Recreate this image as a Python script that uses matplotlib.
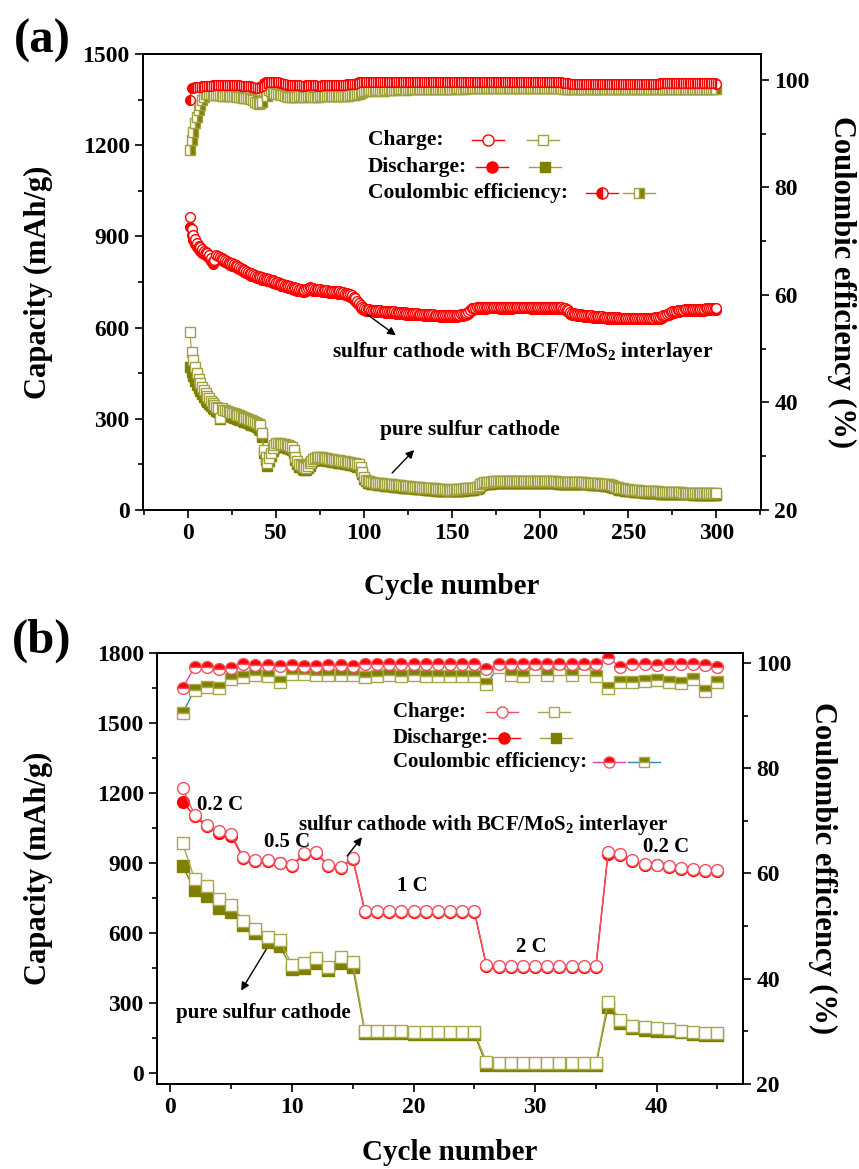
import matplotlib
matplotlib.use("Agg")
import matplotlib.pyplot as plt
import numpy as np
from matplotlib.lines import Line2D
from matplotlib.ticker import MultipleLocator

plt.rcParams['font.family'] = ['Liberation Serif', 'DejaVu Serif']
plt.rcParams['font.weight'] = 'bold'
plt.rcParams['axes.labelweight'] = 'bold'
plt.rcParams['mathtext.fontset'] = 'custom'
plt.rcParams['mathtext.rm'] = 'Liberation Serif:bold'
plt.rcParams['mathtext.it'] = 'Liberation Serif:bold'
plt.rcParams['mathtext.default'] = 'rm'

# ---------------- panel (a): long cycling, 300 cycles ----------------
bcf_charge_a = [
    963, 925, 905, 890, 878, 870, 864, 858, 853, 849, 845, 840, 830, 818, 822, 838, 835, 832, 829, 826,
    823, 820, 817, 814, 811, 808, 805, 802, 799, 796, 793, 790, 787, 784, 781, 778, 776, 773, 771, 769,
    767, 765, 763, 762, 760, 759, 757, 755, 753, 751, 749, 747, 745, 743, 741, 740, 738, 736, 734, 732,
    731, 729, 728, 726, 725, 724, 727, 731, 732, 731, 729, 728, 727, 726, 726, 725, 724, 724, 723, 722,
    722, 721, 721, 720, 719, 719, 718, 717, 715, 713, 711, 709, 706, 702, 696, 688, 680, 673, 667, 663,
    661, 660, 660, 659, 659, 658, 658, 657, 657, 656, 656, 655, 655, 654, 654, 653, 653, 652, 652, 651,
    651, 650, 650, 649, 649, 648, 648, 648, 647, 647, 646, 646, 646, 645, 645, 645, 644, 644, 644, 643,
    643, 643, 642, 642, 642, 641, 641, 641, 641, 641, 641, 642, 642, 643, 644, 645, 646, 648, 652, 658,
    663, 665, 666, 667, 667, 668, 668, 668, 668, 669, 669, 669, 669, 669, 669, 669, 668, 668, 668, 668,
    668, 668, 668, 668, 669, 669, 669, 669, 669, 669, 669, 669, 669, 669, 668, 668, 668, 668, 668, 668,
    668, 668, 668, 668, 668, 668, 668, 667, 667, 667, 667, 667, 666, 665, 662, 657, 652, 649, 647, 646,
    645, 644, 644, 643, 642, 642, 641, 640, 640, 639, 639, 638, 638, 637, 637, 636, 636, 635, 635, 635,
    634, 634, 634, 634, 633, 633, 633, 633, 633, 633, 633, 633, 633, 633, 633, 633, 633, 633, 633, 633,
    633, 633, 633, 633, 634, 634, 634, 635, 637, 640, 643, 646, 649, 651, 653, 655, 656, 657, 658, 659,
    659, 660, 660, 660, 661, 661, 661, 661, 662, 662, 662, 662, 662, 663, 663, 663, 663, 664, 664, 664,
]
bcf_discharge_a = [
    930, 905, 888, 876, 866, 858, 852, 847, 842, 838, 834, 829, 818, 810, 815, 830, 828, 825, 822, 819,
    816, 813, 810, 807, 804, 801, 798, 795, 792, 789, 786, 783, 780, 777, 774, 771, 769, 766, 764, 762,
    760, 758, 756, 755, 753, 752, 750, 748, 746, 744, 742, 740, 738, 736, 734, 733, 731, 729, 727, 725,
    724, 722, 721, 719, 718, 717, 720, 724, 725, 724, 722, 721, 720, 719, 719, 718, 717, 717, 716, 715,
    715, 714, 714, 713, 712, 712, 711, 710, 708, 706, 704, 702, 699, 695, 689, 681, 673, 666, 660, 657,
    655, 654, 654, 653, 653, 652, 652, 651, 651, 650, 650, 649, 649, 648, 648, 647, 647, 646, 646, 645,
    645, 644, 644, 643, 643, 642, 642, 642, 641, 641, 640, 640, 640, 639, 639, 639, 638, 638, 638, 637,
    637, 637, 636, 636, 636, 635, 635, 635, 635, 635, 635, 636, 636, 637, 638, 639, 640, 642, 646, 652,
    657, 659, 660, 661, 661, 662, 662, 662, 662, 663, 663, 663, 663, 663, 663, 663, 662, 662, 662, 662,
    662, 662, 662, 662, 663, 663, 663, 663, 663, 663, 663, 663, 663, 663, 662, 662, 662, 662, 662, 662,
    662, 662, 662, 662, 662, 662, 662, 661, 661, 661, 661, 661, 660, 659, 656, 651, 646, 643, 641, 640,
    639, 638, 638, 637, 636, 636, 635, 634, 634, 633, 633, 632, 632, 631, 631, 630, 630, 629, 629, 629,
    628, 628, 628, 628, 627, 627, 627, 627, 627, 627, 627, 627, 627, 627, 627, 627, 627, 627, 627, 627,
    627, 627, 627, 627, 628, 628, 628, 629, 631, 634, 637, 640, 643, 645, 647, 649, 650, 651, 652, 653,
    653, 654, 654, 654, 655, 655, 655, 655, 656, 656, 656, 656, 656, 657, 657, 657, 657, 658, 658, 658,
]
pure_charge_a = [
    585, 521, 493, 470, 450, 432, 418, 405, 395, 385, 376, 368, 360, 352, 346, 340, 336, 302, 334, 330,
    328, 326, 324, 322, 320, 318, 316, 313, 311, 309, 306, 304, 302, 300, 297, 295, 292, 289, 286, 282,
    278, 253, 197, 175, 154, 170, 187, 205, 215, 219, 220, 219, 218, 217, 216, 215, 214, 212, 208, 197,
    175, 160, 150, 149, 145, 142, 138, 146, 154, 162, 168, 171, 173, 174, 174, 173, 172, 171, 170, 169,
    168, 167, 166, 165, 164, 163, 162, 161, 160, 159, 158, 157, 156, 155, 153, 151, 150, 140, 125, 110,
    100, 96, 94, 92, 91, 90, 90, 89, 88, 88, 87, 86, 86, 85, 85, 84, 83, 83, 82, 82,
    81, 80, 80, 79, 79, 78, 77, 77, 76, 76, 75, 75, 74, 74, 73, 73, 72, 72, 71, 71,
    70, 70, 69, 69, 68, 68, 67, 67, 67, 67, 68, 68, 69, 69, 70, 70, 71, 71, 72, 72,
    73, 73, 74, 76, 80, 85, 89, 91, 92, 93, 93, 93, 94, 94, 94, 94, 94, 94, 94, 94,
    94, 94, 94, 94, 94, 94, 94, 94, 94, 94, 94, 94, 94, 94, 94, 94, 94, 94, 94, 94,
    94, 94, 94, 94, 94, 94, 94, 94, 94, 93, 93, 93, 93, 93, 93, 93, 93, 93, 93, 92,
    92, 92, 91, 91, 91, 90, 90, 90, 89, 89, 89, 88, 88, 87, 87, 86, 86, 85, 84, 83,
    81, 79, 77, 75, 73, 72, 71, 70, 69, 68, 67, 67, 66, 66, 65, 65, 64, 64, 63, 63,
    63, 62, 62, 62, 61, 61, 61, 60, 60, 60, 60, 59, 59, 59, 59, 58, 58, 58, 58, 58,
    57, 57, 57, 57, 57, 57, 56, 56, 56, 56, 56, 56, 56, 55, 55, 55, 55, 55, 55, 55,
]
pure_discharge_a = [
    470, 455, 440, 425, 412, 400, 390, 380, 371, 362, 355, 348, 342, 336, 331, 327, 323, 300, 318, 316,
    314, 312, 310, 308, 306, 304, 302, 299, 297, 295, 292, 290, 288, 286, 283, 281, 278, 275, 272, 268,
    264, 240, 186, 165, 146, 160, 177, 195, 205, 209, 210, 209, 208, 207, 206, 205, 204, 202, 198, 187,
    166, 151, 141, 140, 136, 133, 130, 138, 146, 154, 160, 163, 165, 166, 166, 165, 164, 163, 162, 161,
    160, 159, 158, 157, 156, 155, 154, 153, 152, 151, 150, 149, 148, 147, 145, 143, 142, 132, 118, 103,
    94, 90, 88, 86, 85, 84, 84, 83, 82, 82, 81, 80, 80, 79, 79, 78, 77, 77, 76, 76,
    75, 74, 74, 73, 73, 72, 71, 71, 70, 70, 69, 69, 68, 68, 67, 67, 66, 66, 65, 65,
    64, 64, 63, 63, 62, 62, 61, 61, 61, 61, 62, 62, 63, 63, 64, 64, 65, 65, 66, 66,
    67, 67, 68, 70, 74, 79, 83, 85, 86, 87, 87, 87, 88, 88, 88, 88, 88, 88, 88, 88,
    88, 88, 88, 88, 88, 88, 88, 88, 88, 88, 88, 88, 88, 88, 88, 88, 88, 88, 88, 88,
    88, 88, 88, 88, 88, 88, 88, 88, 88, 87, 87, 87, 87, 87, 87, 87, 87, 87, 87, 86,
    86, 86, 85, 85, 85, 84, 84, 84, 83, 83, 83, 82, 82, 81, 81, 80, 80, 79, 78, 77,
    75, 73, 71, 69, 67, 66, 65, 64, 63, 62, 61, 61, 60, 60, 59, 59, 58, 58, 57, 57,
    57, 56, 56, 56, 55, 55, 55, 54, 54, 54, 54, 53, 53, 53, 53, 52, 52, 52, 52, 52,
    51, 51, 51, 51, 51, 51, 50, 50, 50, 50, 50, 50, 50, 49, 49, 49, 49, 49, 49, 49,
]
bcf_ce_a = [
    96.2, 98.4, 98.5, 98.6, 98.6, 98.7, 98.7, 98.8, 98.8, 98.8, 98.9, 98.9, 98.9, 99.0, 99.0, 99.0, 99.0, 99.0, 99.1, 99.1,
    99.1, 99.1, 99.1, 99.1, 99.0, 99.0, 99.0, 99.0, 99.0, 98.9, 98.9, 98.9, 98.8, 98.8, 98.8, 98.7, 98.6, 98.5, 98.5, 98.6,
    98.7, 98.8, 99.4, 99.5, 99.5, 99.6, 99.5, 99.5, 99.6, 99.5, 99.5, 99.4, 99.4, 99.3, 99.2, 99.1, 99.0, 99.0, 99.0, 99.0,
    99.0, 99.0, 99.0, 98.9, 98.9, 98.9, 99.0, 99.0, 99.0, 99.0, 99.0, 99.0, 98.9, 98.9, 98.9, 99.0, 99.0, 99.0, 99.0, 99.0,
    99.0, 99.0, 99.0, 99.1, 99.1, 99.1, 99.1, 99.1, 99.1, 99.2, 99.2, 99.2, 99.2, 99.3, 99.3, 99.4, 99.5, 99.5, 99.5, 99.5,
    99.5, 99.5, 99.6, 99.5, 99.5, 99.5, 99.6, 99.6, 99.5, 99.5, 99.5, 99.5, 99.6, 99.6, 99.5, 99.5, 99.5, 99.5, 99.5, 99.6,
    99.6, 99.5, 99.5, 99.5, 99.5, 99.6, 99.6, 99.6, 99.5, 99.5, 99.5, 99.5, 99.5, 99.6, 99.6, 99.6, 99.5, 99.5, 99.5, 99.5,
    99.5, 99.5, 99.6, 99.6, 99.6, 99.5, 99.5, 99.5, 99.5, 99.5, 99.6, 99.6, 99.6, 99.6, 99.5, 99.5, 99.5, 99.5, 99.6, 99.6,
    99.6, 99.6, 99.6, 99.6, 99.5, 99.5, 99.5, 99.5, 99.5, 99.5, 99.5, 99.5, 99.5, 99.5, 99.5, 99.5, 99.5, 99.5, 99.5, 99.5,
    99.5, 99.5, 99.5, 99.5, 99.5, 99.5, 99.5, 99.5, 99.5, 99.5, 99.5, 99.5, 99.5, 99.5, 99.5, 99.5, 99.5, 99.5, 99.5, 99.5,
    99.5, 99.5, 99.5, 99.5, 99.5, 99.5, 99.5, 99.5, 99.5, 99.5, 99.5, 99.5, 99.4, 99.4, 99.4, 99.4, 99.3, 99.3, 99.3, 99.3,
    99.3, 99.3, 99.3, 99.3, 99.3, 99.3, 99.3, 99.3, 99.3, 99.3, 99.3, 99.3, 99.3, 99.3, 99.3, 99.3, 99.3, 99.3, 99.3, 99.3,
    99.3, 99.3, 99.3, 99.3, 99.3, 99.3, 99.3, 99.3, 99.3, 99.3, 99.3, 99.3, 99.3, 99.3, 99.3, 99.3, 99.3, 99.3, 99.3, 99.3,
    99.3, 99.3, 99.3, 99.3, 99.3, 99.3, 99.3, 99.4, 99.4, 99.4, 99.4, 99.4, 99.4, 99.4, 99.4, 99.4, 99.4, 99.4, 99.4, 99.4,
    99.4, 99.4, 99.4, 99.4, 99.4, 99.4, 99.4, 99.4, 99.4, 99.4, 99.4, 99.4, 99.4, 99.4, 99.4, 99.4, 99.4, 99.4, 99.4, 99.3,
]
pure_ce_a = [
    86.9, 88.8, 90.3, 91.9, 93.1, 94.4, 95.3, 96.2, 96.8, 97.3, 97.4, 97.4, 97.3, 97.2, 97.1, 97.1, 97.2, 97.1, 97.0, 97.0,
    97.0, 97.1, 97.0, 96.9, 96.9, 97.0, 96.9, 96.8, 96.8, 96.8, 96.7, 96.7, 96.6, 96.6, 96.5, 96.5, 96.3, 95.8, 95.6, 95.5,
    95.6, 95.9, 98.0, 97.8, 97.0, 98.1, 97.9, 97.6, 97.5, 97.4, 97.3, 97.3, 97.2, 97.2, 97.0, 96.9, 96.8, 96.8, 96.8, 96.8,
    96.8, 96.8, 96.9, 96.9, 96.8, 96.8, 96.8, 96.9, 96.9, 96.9, 96.8, 96.8, 96.8, 96.8, 96.9, 96.9, 96.9, 96.9, 96.9, 96.9,
    96.9, 96.9, 96.9, 97.0, 97.0, 97.0, 97.0, 97.0, 97.0, 97.0, 97.0, 97.1, 97.1, 97.1, 97.2, 97.3, 97.4, 97.6, 97.8, 98.0,
    98.0, 98.0, 98.1, 98.1, 98.0, 98.0, 98.1, 98.1, 98.1, 98.0, 98.0, 98.1, 98.1, 98.2, 98.2, 98.1, 98.1, 98.1, 98.2, 98.2,
    98.2, 98.2, 98.1, 98.1, 98.2, 98.2, 98.2, 98.2, 98.3, 98.3, 98.2, 98.2, 98.2, 98.3, 98.3, 98.3, 98.2, 98.2, 98.3, 98.3,
    98.3, 98.3, 98.3, 98.2, 98.2, 98.2, 98.3, 98.3, 98.3, 98.3, 98.3, 98.3, 98.4, 98.4, 98.3, 98.3, 98.3, 98.4, 98.4, 98.4,
    98.4, 98.4, 98.4, 98.4, 98.4, 98.4, 98.4, 98.4, 98.4, 98.4, 98.4, 98.4, 98.4, 98.4, 98.4, 98.4, 98.4, 98.4, 98.4, 98.4,
    98.4, 98.4, 98.4, 98.4, 98.4, 98.4, 98.4, 98.4, 98.4, 98.4, 98.4, 98.4, 98.4, 98.4, 98.4, 98.4, 98.4, 98.4, 98.4, 98.4,
    98.4, 98.4, 98.4, 98.4, 98.4, 98.4, 98.4, 98.4, 98.4, 98.4, 98.4, 98.4, 98.3, 98.3, 98.3, 98.3, 98.3, 98.3, 98.3, 98.3,
    98.3, 98.3, 98.3, 98.3, 98.3, 98.3, 98.3, 98.3, 98.3, 98.3, 98.3, 98.3, 98.3, 98.3, 98.3, 98.3, 98.3, 98.3, 98.3, 98.3,
    98.3, 98.3, 98.3, 98.3, 98.3, 98.3, 98.3, 98.3, 98.3, 98.3, 98.3, 98.3, 98.3, 98.3, 98.3, 98.3, 98.3, 98.3, 98.3, 98.3,
    98.3, 98.3, 98.3, 98.3, 98.3, 98.3, 98.3, 98.3, 98.3, 98.3, 98.3, 98.3, 98.3, 98.3, 98.3, 98.3, 98.3, 98.3, 98.3, 98.3,
    98.3, 98.3, 98.3, 98.3, 98.3, 98.3, 98.3, 98.3, 98.3, 98.3, 98.3, 98.3, 98.3, 98.3, 98.3, 98.3, 98.2, 98.2, 98.2, 98.2,
]

# ---------------- panel (b): rate test, 45 cycles ----------------
bcf_charge_b = [1220, 1106, 1063, 1038, 1024, 924, 913, 913, 901, 891, 942, 946, 890, 884, 921,
                696, 695, 695, 695, 695, 695, 695, 695, 695, 695,
                462, 458, 458, 458, 458, 458, 458, 458, 458, 458,
                946, 939, 913, 896, 893, 886, 879, 874, 868, 870]
bcf_discharge_b = [1163, 1100, 1058, 1030, 1017, 920, 910, 910, 898, 888, 938, 943, 887, 880, 918,
                   692, 692, 692, 692, 692, 692, 692, 692, 692, 692,
                   458, 455, 455, 455, 455, 455, 455, 455, 455, 455,
                   940, 935, 910, 893, 890, 883, 876, 871, 865, 866]
pure_charge_b = [985, 830, 801, 746, 720, 653, 616, 584, 570, 463, 470, 492, 453, 496, 477,
                 181, 180, 179, 178, 177, 177, 176, 176, 175, 175,
                 48, 42, 42, 42, 41, 41, 41, 41, 41, 41,
                 306, 227, 203, 196, 191, 187, 181, 174, 170, 170]
pure_discharge_b = [887, 784, 759, 706, 692, 634, 599, 563, 546, 446, 450, 473, 440, 473, 453,
                    172, 171, 170, 170, 169, 169, 168, 168, 167, 167,
                    34, 33, 33, 33, 33, 33, 33, 33, 33, 33,
                    284, 213, 191, 184, 181, 178, 174, 168, 163, 163]
bcf_ce_b = [95.2, 99.3, 99.3, 98.9, 99.0, 99.9, 99.6, 99.6, 99.5, 99.6, 99.5, 99.5, 99.6, 99.6, 99.5,
            99.8, 99.8, 99.8, 99.8, 99.8, 99.8, 99.8, 99.8, 99.8, 99.8,
            98.9, 99.8, 99.8, 99.8, 99.9, 99.9, 99.9, 99.9, 99.9, 99.8,
            100.9, 99.3, 99.8, 99.8, 99.6, 99.8, 99.8, 99.8, 99.6, 99.3]
pure_ce_b = [90.5, 94.9, 95.5, 95.2, 96.9, 97.4, 97.7, 97.5, 96.4, 98.0, 98.0, 97.8, 97.8, 97.7, 97.8,
             97.3, 97.5, 97.7, 97.5, 97.7, 97.5, 97.5, 97.5, 97.5, 97.5,
             96.1, 99.3, 97.7, 97.5, 98.8, 97.7, 98.8, 97.7, 98.8, 97.5,
             95.2, 96.4, 96.4, 96.6, 96.8, 96.4, 96.2, 96.9, 94.6, 96.4]

cyc_a = np.arange(1, len(bcf_charge_a) + 1)
cyc_b = np.arange(1, len(bcf_charge_b) + 1)

RED = '#ff0000'
RED_B = '#f05060'
OLIVE = '#808000'
OLIVE_L = '#a0a040'

W, H = 859, 1169
fig = plt.figure(figsize=(W / 100, H / 100), dpi=100)


def box(l, t, r, b):
    return [l / W, 1 - b / H, (r - l) / W, (b - t) / H]


def style(ax, axr, xmaj, xmin, ymaj, ymin):
    for a in (ax, axr):
        for s in a.spines.values():
            s.set_linewidth(1.3)
    ax.xaxis.set_major_locator(MultipleLocator(xmaj))
    ax.xaxis.set_minor_locator(MultipleLocator(xmin))
    ax.yaxis.set_major_locator(MultipleLocator(ymaj))
    ax.yaxis.set_minor_locator(MultipleLocator(ymin))
    axr.yaxis.set_major_locator(MultipleLocator(20))
    axr.yaxis.set_minor_locator(MultipleLocator(10))
    ax.tick_params(which='both', direction='out', top=False, right=False, width=1.2, labelsize=17)
    ax.tick_params(which='major', length=6)
    ax.tick_params(which='minor', length=3.5)
    axr.tick_params(which='both', direction='out', width=1.2, labelsize=17)
    axr.tick_params(which='major', length=6)
    axr.tick_params(which='minor', length=3.5)


def labels(ax, axr, l, t, r, b, xlab_y, ylab_x, rlab_x):
    w, h = r - l, b - t
    ax.set_xlabel('Cycle number', fontsize=21, va='center')
    ax.xaxis.set_label_coords(0.5, (b - xlab_y) / h)
    ax.set_ylabel('Capacity (mAh/g)', fontsize=22, va='center')
    ax.yaxis.set_label_coords((ylab_x - l) / w, 0.5)
    axr.set_ylabel('Coulombic efficiency (%)', fontsize=22, rotation=270, va='center')
    axr.yaxis.set_label_coords((rlab_x - l) / w, 0.5)


def key(x, y, marker, mfc, mec, lc, fill='full', ms=8):
    fx, fy = x / W, 1 - y / H
    fig.add_artist(Line2D([fx - 16 / W, fx + 16 / W], [fy, fy], color=lc, lw=1,
                          transform=fig.transFigure))
    fig.add_artist(Line2D([fx], [fy], marker=marker, mfc=mfc, mec=mec, mew=1,
                          fillstyle=fill, markerfacecoloralt='white', ms=ms,
                          transform=fig.transFigure))


# ======================= (a) =======================
ax1 = fig.add_axes(box(143, 54, 761, 510))
ax1r = ax1.twinx()

ax1.plot(cyc_a, pure_discharge_a, '-s', color=OLIVE, mfc=OLIVE, mec=OLIVE, ms=6.5, lw=0.8, mew=1)
ax1.plot(cyc_a, pure_charge_a, '-s', color=OLIVE_L, mfc='white', mec=OLIVE_L, ms=6.5, lw=0.8, mew=1)
ax1.plot(cyc_a, bcf_discharge_a, '-o', color=RED, mfc=RED, mec=RED, ms=7, lw=0.8, mew=1)
ax1.plot(cyc_a, bcf_charge_a, '-o', color=RED, mfc='white', mec=RED, ms=7, lw=0.8, mew=1)

ax1r.plot(cyc_a, pure_ce_a, '-s', color=OLIVE, mfc=OLIVE, mec=OLIVE_L, fillstyle='right',
          markerfacecoloralt='white', ms=6.5, lw=0.8, mew=1)
ax1r.plot(cyc_a, bcf_ce_a, '-o', color=RED, mfc=RED, mec=RED, fillstyle='left',
          markerfacecoloralt='white', ms=7, lw=0.8, mew=1)

ax1.set_xlim(-25.6, 325.4)
ax1.set_ylim(0, 1500)
ax1r.set_ylim(20, 104.8)
style(ax1, ax1r, 50, 25, 300, 150)
labels(ax1, ax1r, 143, 54, 761, 510, 587, 38, 842)

ax1.annotate('', xy=(119.3, 569), xytext=(100.6, 648),
             arrowprops=dict(arrowstyle='-|>', color='black', lw=1, mutation_scale=12))
ax1.annotate('', xy=(129.5, 204), xytext=(114.8, 115),
             arrowprops=dict(arrowstyle='-|>', color='black', lw=1, mutation_scale=12))
ax1.text(82, 520, 'sulfur cathode with BCF/MoS$_2$ interlayer', fontsize=15.5, ha='left', va='center')
ax1.text(109, 263, 'pure sulfur cathode', fontsize=15.5, ha='left', va='center')

for txt, yy in [('Charge:', 140), ('Discharge:', 167), ('Coulombic efficiency:', 193)]:
    fig.text(368 / W, 1 - yy / H, txt, fontsize=15.5, ha='left', va='center')
key(488, 140, 'o', 'white', RED, RED)
key(543, 140, 's', 'white', OLIVE_L, OLIVE_L, ms=7)
key(492, 167, 'o', RED, RED, RED)
key(545, 167, 's', OLIVE, OLIVE, OLIVE_L, ms=7)
key(602, 193, 'o', RED, RED, RED, fill='left')
key(639, 193, 's', OLIVE, OLIVE_L, OLIVE_L, fill='right', ms=7)

fig.text(42 / W, 1 - 41 / H, '(a)', fontsize=35, ha='center', va='center')

# ======================= (b) =======================
ax2 = fig.add_axes(box(157, 653, 743, 1084))
ax2r = ax2.twinx()

ax2.plot(cyc_b, pure_discharge_b, '-s', color=OLIVE, mfc=OLIVE, mec=OLIVE, ms=8, lw=1, mew=1)
ax2.plot(cyc_b, pure_charge_b, '-s', color='#a8a850', mfc='white', mec='#a8a848', ms=8, lw=1, mew=1)
ax2.plot(cyc_b, bcf_discharge_b, '-o', color=RED, mfc=RED, mec=RED, ms=8.5, lw=1, mew=1)
ax2.plot(cyc_b, bcf_charge_b, '-o', color=RED_B, mfc='white', mec=RED_B, ms=8.5, lw=1, mew=1)

ax2r.plot(cyc_b, pure_ce_b, '-s', color='#2a8ab0', mfc=OLIVE, mec='#a8a848', fillstyle='top',
          markerfacecoloralt='white', ms=8, lw=1, mew=1)
ax2r.plot(cyc_b, bcf_ce_b, '-o', color='#e040b0', mfc=RED, mec=RED_B, fillstyle='top',
          markerfacecoloralt='white', ms=8.5, lw=1, mew=1)

ax2.set_xlim(-1.1, 47.1)
ax2.set_ylim(-47, 1800)
ax2r.set_ylim(20, 101.9)
style(ax2, ax2r, 10, 5, 300, 150)
labels(ax2, ax2r, 157, 653, 743, 1084, 1153, 38, 823)

ax2.annotate('', xy=(15.9, 1020), xytext=(14.4, 921),
             arrowprops=dict(arrowstyle='-|>', color='black', lw=1, mutation_scale=12))
ax2.annotate('', xy=(5.7, 343), xytext=(8.0, 540),
             arrowprops=dict(arrowstyle='-|>', color='black', lw=1, mutation_scale=12))
ax2.text(10.5, 1063, 'sulfur cathode with BCF/MoS$_2$ interlayer', fontsize=15, ha='left', va='center')
ax2.text(0.45, 257, 'pure sulfur cathode', fontsize=15, ha='left', va='center')
for txt, cx, cy in [('0.2 C', 4.1, 1149), ('0.5 C', 9.6, 990), ('1 C', 19.9, 802),
                    ('2 C', 29.7, 540), ('0.2 C', 40.8, 969)]:
    ax2.text(cx, cy, txt, fontsize=15, ha='center', va='center')

for txt, yy in [('Charge:', 712), ('Discharge:', 738), ('Coulombic efficiency:', 762)]:
    fig.text(393 / W, 1 - yy / H, txt, fontsize=15, ha='left', va='center')
key(502, 712, 'o', 'white', RED_B, RED_B)
key(554, 712, 's', 'white', '#a8a848', '#a8a850', ms=7.5)
key(504, 738, 'o', RED, RED, RED)
key(556, 738, 's', OLIVE, OLIVE, OLIVE_L, ms=7.5)
key(609, 762, 'o', RED, RED_B, '#e040b0', fill='top')
key(644, 762, 's', OLIVE, '#a8a848', '#2a8ab0', fill='top', ms=7.5)

fig.text(42 / W, 1 - 641 / H, '(b)', fontsize=35, ha='center', va='center')

fig.savefig('out.png', dpi=100)
